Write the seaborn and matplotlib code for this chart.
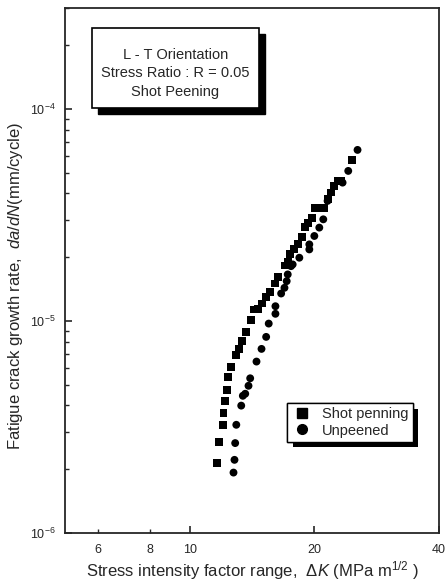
import numpy as np
import pandas as pd
import matplotlib
matplotlib.use("Agg")
import matplotlib.pyplot as plt
import matplotlib.ticker as mticker
from matplotlib import patheffects
from matplotlib.patches import Rectangle
import seaborn as sns

# ---- data ----
shot_dk = [11.66, 11.79, 12.03, 12.07, 12.19, 12.30, 12.37, 12.60, 12.91, 13.14,
           13.39, 13.69, 14.08, 14.28, 14.60, 14.93, 15.30, 15.65, 16.09, 16.38,
           17.03, 17.25, 17.51, 17.90, 18.30, 18.64, 19.00, 19.35, 19.70, 20.11,
           20.56, 21.06, 21.61, 21.94, 22.35, 22.76, 23.27, 24.65]
shot_rate = [2.14e-6, 2.70e-6, 3.24e-6, 3.68e-6, 4.18e-6, 4.75e-6, 5.45e-6, 6.07e-6, 6.94e-6, 7.39e-6,
             8.03e-6, 8.85e-6, 1.009e-5, 1.134e-5, 1.142e-5, 1.21e-5, 1.30e-5, 1.368e-5, 1.504e-5, 1.618e-5,
             1.83e-5, 1.897e-5, 2.063e-5, 2.178e-5, 2.30e-5, 2.50e-5, 2.79e-5, 2.91e-5, 3.05e-5, 3.40e-5,
             3.40e-5, 3.40e-5, 3.75e-5, 4.04e-5, 4.34e-5, 4.58e-5, 4.58e-5, 5.74e-5]

unp_dk = [12.76, 12.83, 12.88, 12.96, 13.32, 13.44, 13.62, 13.87, 14.00, 14.50,
          14.91, 15.30, 15.52, 16.11, 16.11, 16.63, 16.94, 17.15, 17.25, 17.57,
          17.73, 18.40, 19.45, 19.45, 20.00, 20.56, 21.02, 21.53, 23.40, 24.15, 25.43]
unp_rate = [1.928e-6, 2.214e-6, 2.656e-6, 3.24e-6, 3.99e-6, 4.44e-6, 4.54e-6, 4.95e-6, 5.37e-6, 6.44e-6,
            7.39e-6, 8.42e-6, 9.73e-6, 1.082e-5, 1.175e-5, 1.349e-5, 1.435e-5, 1.543e-5, 1.66e-5, 1.816e-5,
            1.85e-5, 1.99e-5, 2.178e-5, 2.30e-5, 2.52e-5, 2.76e-5, 3.02e-5, 3.69e-5, 4.50e-5, 5.11e-5, 6.42e-5]

series_labels = ["Shot penning", "Unpeened"]
x_tick_vals = [6, 8, 10, 20, 40]
x_tick_labels = ["6", "8", "10", "20", "40"]
y_tick_vals = [1e-6, 1e-5, 1e-4]
y_tick_labels = [r"$10^{-6}$", r"$10^{-5}$", r"$10^{-4}$"]
box_lines = ["L - T Orientation", "Stress Ratio : R = 0.05", "Shot Peening"]

df = pd.concat([
    pd.DataFrame({"dK": shot_dk, "rate": shot_rate, "series": series_labels[0]}),
    pd.DataFrame({"dK": unp_dk, "rate": unp_rate, "series": series_labels[1]}),
])

sns.set_style("ticks")
plt.rcParams["font.family"] = ["Liberation Sans", "DejaVu Sans"]
plt.rcParams["mathtext.fontset"] = "custom"
plt.rcParams["mathtext.rm"] = "Liberation Sans"
plt.rcParams["mathtext.it"] = "Liberation Sans:italic"
plt.rcParams["mathtext.bf"] = "Liberation Sans:bold"

fig = plt.figure(figsize=(4.46, 5.88), dpi=100)
ax = fig.add_axes([65/446, 1-533/588, (439-65)/446, (533-8)/588])

sns.scatterplot(data=df, x="dK", y="rate", style="series", markers={series_labels[0]: "s", series_labels[1]: "o"},
                hue="series", palette={series_labels[0]: "black", series_labels[1]: "black"},
                s=32, linewidth=0, ax=ax, legend=False)

ax.set_xscale("log")
ax.set_yscale("log")
ax.set_xlim(5, 40)
ax.set_ylim(1e-6, 3e-4)

# x ticks
ax.xaxis.set_major_locator(mticker.FixedLocator([10, 20, 40]))
ax.xaxis.set_minor_locator(mticker.FixedLocator([6, 8]))
ax.xaxis.set_major_formatter(mticker.NullFormatter())
ax.xaxis.set_minor_formatter(mticker.NullFormatter())
for v, lab in zip(x_tick_vals, x_tick_labels):
    ax.text(v, -0.021, lab, transform=ax.get_xaxis_transform(), ha="center", va="top", fontsize=9)

# y ticks
ax.yaxis.set_major_locator(mticker.FixedLocator(y_tick_vals))
ax.yaxis.set_major_formatter(mticker.FixedFormatter(y_tick_labels))
ax.yaxis.set_minor_locator(mticker.LogLocator(base=10, subs=np.arange(2, 10)))
ax.yaxis.set_minor_formatter(mticker.NullFormatter())

ax.tick_params(axis="both", which="major", direction="in", length=5, width=1.2, labelsize=9, pad=9)
ax.tick_params(axis="y", which="major", pad=7)
ax.tick_params(axis="both", which="minor", direction="in", length=3, width=1.0)
ax.tick_params(top=False, right=False, which="both")
for sp in ax.spines.values():
    sp.set_linewidth(1.3)
    sp.set_visible(True)

ax.set_xlabel(r"Stress intensity factor range,  $\mathit{\Delta K}$ (MPa m$^{1/2}$ )", fontsize=12, labelpad=10)
ax.set_ylabel(r"Fatigue crack growth rate,  $\mathit{da/dN}$(mm/cycle)", fontsize=12)
ax.yaxis.set_label_coords(-0.108, 0.47)

# annotation box with shadow
bx0, bx1 = (92-65)/374, (259-65)/374
by0, by1 = (533-108)/525, (533-28)/525
sx, sy = 6/374, 6/525
ax.add_patch(Rectangle((bx0+sx, by0-sy), bx1-bx0, by1-by0, transform=ax.transAxes,
                       facecolor="black", edgecolor="black", zorder=5))
ax.add_patch(Rectangle((bx0, by0), bx1-bx0, by1-by0, transform=ax.transAxes,
                       facecolor="white", edgecolor="black", linewidth=1.2, zorder=6))
ax.text((bx0+bx1)/2, (by0+by1)/2 - 0.010, "\n".join(box_lines), transform=ax.transAxes,
        ha="center", va="center", fontsize=10.5, linespacing=1.4, zorder=7)

# legend
handles = [
    plt.Line2D([], [], marker="s", color="black", linestyle="none", markersize=6.5),
    plt.Line2D([], [], marker="o", color="black", linestyle="none", markersize=7),
]
leg = ax.legend(handles, series_labels, loc="upper left",
                bbox_to_anchor=((287-65)/374, (533-403)/525), borderaxespad=0,
                fontsize=10.5, frameon=True, fancybox=False, edgecolor="black",
                framealpha=1, borderpad=0.3, handlelength=1.5, handletextpad=0.6,
                labelspacing=0.15)
leg.get_frame().set_linewidth(1.0)
leg.legendPatch.set_path_effects([patheffects.withSimplePatchShadow(offset=(4, -4), shadow_rgbFace="black", alpha=1.0),
                                  patheffects.Normal()])
leg.set_zorder(8)

fig.savefig("out.png", dpi=100)
